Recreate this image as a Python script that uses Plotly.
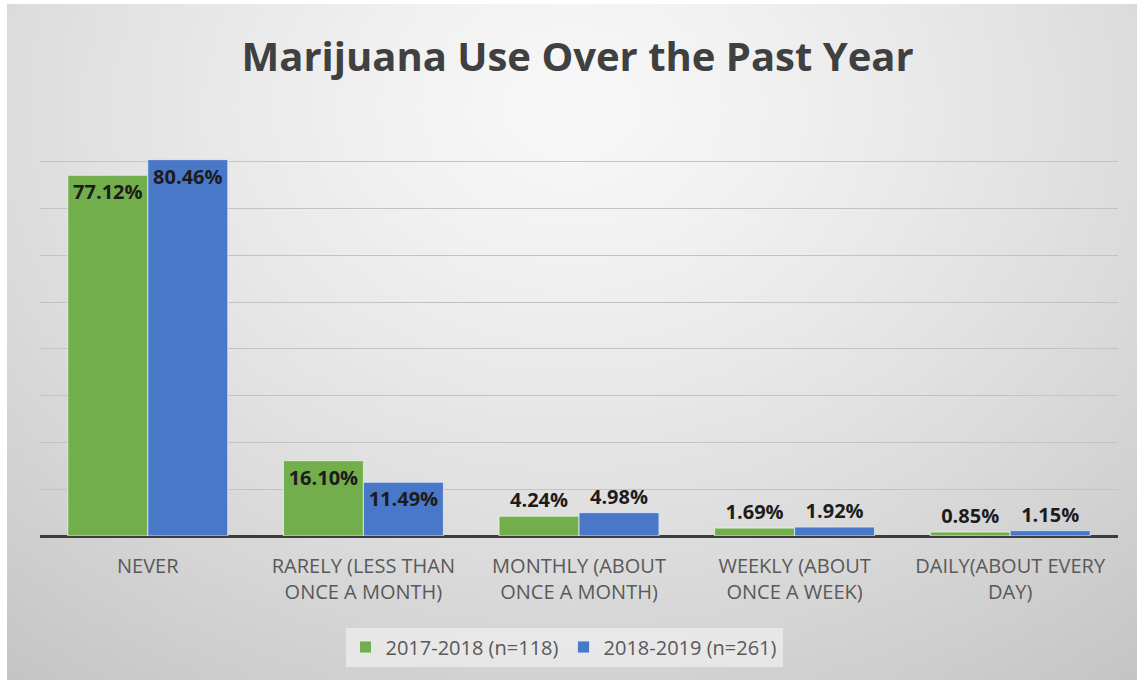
import base64
import struct
import zlib

import numpy as np
import plotly.graph_objects as go

# ---------------- data ----------------
categories = [
    "NEVER",
    "RARELY (LESS THAN<br>ONCE A MONTH)",
    "MONTHLY (ABOUT<br>ONCE A MONTH)",
    "WEEKLY (ABOUT<br>ONCE A WEEK)",
    "DAILY(ABOUT EVERY<br>DAY)",
]
series_names = ["2017-2018 (n=118)", "2018-2019 (n=261)"]
values_2017_2018 = [77.12, 16.10, 4.24, 1.69, 0.85]
values_2018_2019 = [80.46, 11.49, 4.98, 1.92, 1.15]
label_positions_2017 = ["inside", "inside", "outside", "outside", "outside"]
label_positions_2018 = ["inside", "inside", "outside", "outside", "outside"]

# ---------------- layout geometry ----------------
W_PX, H_PX = 1137, 681
M_L, M_R, M_T, M_B = 40, 19, 115, 145
PW = W_PX - M_L - M_R
PH = H_PX - M_T - M_B


def px_to_paper_x(px):
    return (px - M_L) / PW


def px_to_paper_y(py):
    return (H_PX - M_B - py) / PH


# ---------------- background gradient image ----------------
def make_png(gray):
    h, w = gray.shape
    raw = b"".join(b"\x00" + gray[i].tobytes() for i in range(h))

    def chunk(tag, data):
        c = struct.pack(">I", len(data)) + tag + data
        return c + struct.pack(">I", zlib.crc32(tag + data) & 0xFFFFFFFF)

    ihdr = struct.pack(">IIBBBBB", w, h, 8, 0, 0, 0, 0)
    return (b"\x89PNG\r\n\x1a\n" + chunk(b"IHDR", ihdr)
            + chunk(b"IDAT", zlib.compress(raw, 9)) + chunk(b"IEND", b""))


gw, gh = 226, 135
yy, xx = np.mgrid[0:gh, 0:gw]
u = (xx / (gw - 1) - 0.5) / 0.75
v = (yy / (gh - 1) - 0.15) / 1.0
d = np.sqrt(u ** 2 + v ** 2)
grad = np.clip(248 - 46 * d ** 1.3, 0, 255).astype(np.uint8)
bg_src = "data:image/png;base64," + base64.b64encode(make_png(grad)).decode()

frame_x0, frame_y0, frame_x1, frame_y1 = 7, 4, 1137, 680

# ---------------- figure ----------------
FONT = "Open Sans, Arial, sans-serif"
label_font = dict(family=FONT, size=20, color="#1c1c1c")

fig = go.Figure()
fig.add_trace(go.Bar(
    name=series_names[0], x=categories, y=values_2017_2018,
    marker=dict(color="#72ae4c", line=dict(color="rgba(235,245,230,0.8)", width=1)),
    text=[f"<b>{v:.2f}%</b>" for v in values_2017_2018],
    textposition=label_positions_2017, insidetextanchor="end",
    textfont=label_font, insidetextfont=label_font, outsidetextfont=label_font,
    constraintext="none", cliponaxis=False, hoverinfo="skip",
))
fig.add_trace(go.Bar(
    name=series_names[1], x=categories, y=values_2018_2019,
    marker=dict(color="#4a78c8", line=dict(color="rgba(225,235,250,0.8)", width=1)),
    text=[f"<b>{v:.2f}%</b>" for v in values_2018_2019],
    textposition=label_positions_2018, insidetextanchor="end",
    textfont=label_font, insidetextfont=label_font, outsidetextfont=label_font,
    constraintext="none", cliponaxis=False, hoverinfo="skip",
))

fig.update_layout(
    width=W_PX, height=H_PX,
    margin=dict(l=M_L, r=M_R, t=M_T, b=M_B, pad=0),
    paper_bgcolor="#ffffff",
    plot_bgcolor="rgba(0,0,0,0)",
    barmode="group", bargap=0.258, bargroupgap=0,
    title=dict(
        text="<b>Marijuana Use Over the Past Year</b>",
        x=0.508, xanchor="center", y=1 - 57 / H_PX, yanchor="middle",
        font=dict(family=FONT, size=40, color="#404040"),
    ),
    font=dict(family=FONT),
    showlegend=True,
    legend=dict(
        orientation="h", xanchor="center", yanchor="middle",
        x=px_to_paper_x(564), y=px_to_paper_y(647),
        bgcolor="rgba(238,238,238,0.75)",
        font=dict(family=FONT, size=20, color="#595959"),
        itemwidth=30, itemclick=False, itemdoubleclick=False,
    ),
    xaxis=dict(
        showgrid=False, showline=False, ticks="",
        tickfont=dict(family=FONT, size=20, color="#595959"),
        ticklabelstandoff=16,
        fixedrange=True,
    ),
    yaxis=dict(
        range=[0, 90], dtick=10, showticklabels=False,
        showgrid=True, gridcolor="#c3c3c3", gridwidth=1,
        zeroline=True, zerolinecolor="#3c3c3c", zerolinewidth=3,
        showline=False, ticks="", fixedrange=True,
    ),
    images=[dict(
        source=bg_src, xref="paper", yref="paper",
        x=px_to_paper_x(frame_x0), y=px_to_paper_y(frame_y0),
        sizex=(frame_x1 - frame_x0) / PW, sizey=(frame_y1 - frame_y0) / PH,
        xanchor="left", yanchor="top", sizing="stretch", layer="below",
    )],
)

fig.write_html("out.html", config={"displayModeBar": False})
